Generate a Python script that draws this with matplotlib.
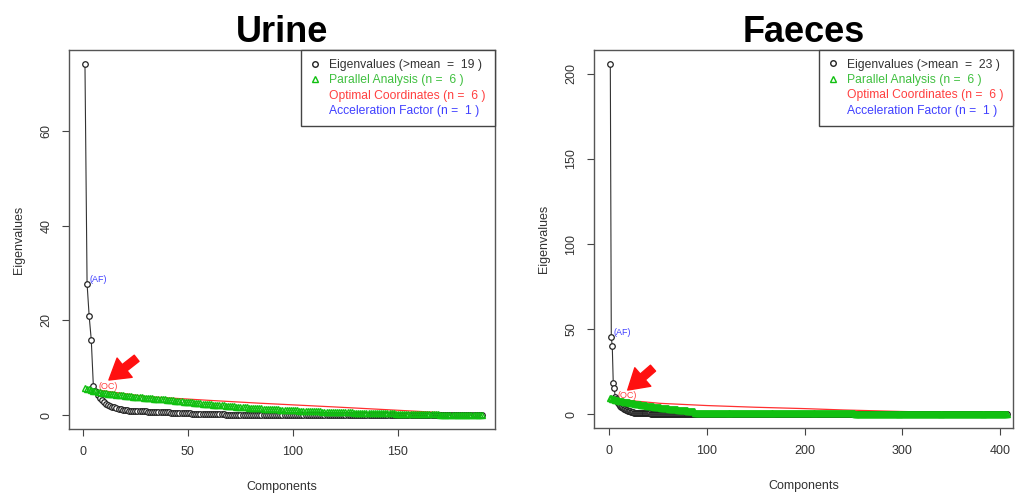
import matplotlib
matplotlib.use("Agg")
import matplotlib.pyplot as plt
from matplotlib.lines import Line2D

plt.rcParams['font.family'] = ['Liberation Sans', 'DejaVu Sans']

# --- Urine -------------------------------------------------------------
urine_eig = [
    74.2, 27.8, 20.9, 15.9, 6.1, 5.0, 4.2, 3.6, 3.1, 2.7,
    2.4, 2.15, 1.95, 1.78, 1.62, 1.48, 1.36, 1.25, 1.14, 1.0,
    0.97, 0.94, 0.91, 0.88, 0.85, 0.83, 0.81, 0.79, 0.77, 0.75,
    0.73, 0.71, 0.69, 0.67, 0.65, 0.63, 0.62, 0.6, 0.58, 0.56,
    0.54, 0.52, 0.5, 0.48, 0.45, 0.43, 0.41, 0.39, 0.37, 0.35,
    0.33, 0.31, 0.29, 0.28, 0.26, 0.25, 0.23, 0.22, 0.2, 0.18,
    0.17, 0.16, 0.15, 0.14, 0.13, 0.12, 0.11, 0.1, 0.1, 0.09,
    0.09, 0.08, 0.08, 0.07, 0.07, 0.07, 0.06, 0.06, 0.06, 0.05,
    0.05, 0.05, 0.04, 0.04, 0.04, 0.04, 0.03, 0.03, 0.03, 0.03,
    0.03, 0.02, 0.02, 0.02, 0.02, 0.02, 0.02, 0.02, 0.02, 0.01,
    0.01, 0.01, 0.01, 0.01, 0.01, 0.01, 0.01, 0.01, 0.01, 0.01,
    0.01, 0.01, 0.01, 0.01, 0.01, 0.01, 0.01, 0.01, 0.01, 0.01,
    0.01, 0.01, 0.01, 0.01, 0.01, 0.01, 0.01, 0.01, 0.01, 0.01,
    0.0, 0.0, 0.0, 0.0, 0.0, 0.0, 0.0, 0.0, 0.0, 0.0,
    0.0, 0.0, 0.0, 0.0, 0.0, 0.0, 0.0, 0.0, 0.0, 0.0,
    0.0, 0.0, 0.0, 0.0, 0.0, 0.0, 0.0, 0.0, 0.0, 0.0,
    0.0, 0.0, 0.0, 0.0, 0.0, 0.0, 0.0, 0.0, 0.0, 0.0,
    0.0, 0.0, 0.0, 0.0, 0.0, 0.0, 0.0, 0.0, 0.0, 0.0,
    0.0, 0.0, 0.0, 0.0, 0.0, 0.0, 0.0, 0.0, 0.0, 0.0,
]
urine_par = [
    5.8, 5.6, 5.4, 5.25, 5.1, 4.98, 4.88, 4.8, 4.72, 4.65,
    4.58, 4.52, 4.46, 4.4, 4.34, 4.28, 4.23, 4.18, 4.13, 4.08,
    4.03, 3.98, 3.93, 3.89, 3.85, 3.8, 3.76, 3.72, 3.68, 3.64,
    3.6, 3.56, 3.52, 3.48, 3.44, 3.4, 3.36, 3.32, 3.28, 3.24,
    3.2, 3.15, 3.1, 3.05, 3.0, 2.95, 2.9, 2.85, 2.8, 2.76,
    2.71, 2.66, 2.62, 2.57, 2.52, 2.48, 2.43, 2.39, 2.34, 2.3,
    2.26, 2.22, 2.18, 2.14, 2.1, 2.06, 2.02, 1.98, 1.94, 1.9,
    1.86, 1.82, 1.79, 1.75, 1.72, 1.68, 1.65, 1.61, 1.58, 1.55,
    1.52, 1.49, 1.46, 1.43, 1.4, 1.37, 1.34, 1.31, 1.28, 1.25,
    1.22, 1.2, 1.17, 1.15, 1.12, 1.1, 1.07, 1.05, 1.03, 1.0,
    0.98, 0.96, 0.94, 0.92, 0.9, 0.88, 0.86, 0.84, 0.82, 0.8,
    0.78, 0.76, 0.75, 0.73, 0.71, 0.7, 0.68, 0.67, 0.65, 0.64,
    0.62, 0.61, 0.6, 0.58, 0.57, 0.56, 0.54, 0.53, 0.52, 0.51,
    0.5, 0.48, 0.47, 0.46, 0.45, 0.44, 0.43, 0.42, 0.41, 0.4,
    0.39, 0.38, 0.37, 0.36, 0.35, 0.34, 0.33, 0.32, 0.31, 0.3,
    0.29, 0.28, 0.27, 0.26, 0.25, 0.24, 0.23, 0.22, 0.21, 0.2,
    0.19, 0.18, 0.17, 0.16, 0.15, 0.14, 0.13, 0.12, 0.11, 0.1,
    0.09, 0.09, 0.08, 0.08, 0.07, 0.07, 0.06, 0.06, 0.05, 0.05,
    0.04, 0.04, 0.03, 0.03, 0.02, 0.02, 0.01, 0.01, 0.0, 0.0,
]
urine_oc_x = [5, 30, 60, 84, 120, 150, 175, 190]
urine_oc_y = [5.4, 3.9, 3.1, 2.5, 1.7, 1.0, 0.4, 0.0]

# --- Faeces ------------------------------------------------------------
faeces_eig = [
    206.0, 45.1, 40.0, 18.4, 15.1, 10.2, 8.6, 7.4, 6.5, 5.8,
    5.0, 4.4, 3.9, 3.5, 3.1, 2.8, 2.5, 2.2, 1.95, 1.75,
    1.55, 1.35, 1.15, 0.98, 0.9, 0.83, 0.77, 0.72, 0.67, 0.62,
    0.58, 0.55, 0.52, 0.49, 0.46, 0.44, 0.42, 0.4, 0.38, 0.36,
    0.34, 0.33, 0.31, 0.3, 0.29, 0.28, 0.27, 0.26, 0.25, 0.24,
    0.23, 0.22, 0.21, 0.2, 0.19, 0.18, 0.17, 0.16, 0.15, 0.14,
    0.13, 0.13, 0.12, 0.12, 0.11, 0.11, 0.1, 0.1, 0.09, 0.09,
    0.08, 0.08, 0.08, 0.07, 0.07, 0.07, 0.06, 0.06, 0.06, 0.06,
    0.05, 0.05, 0.05, 0.05, 0.04, 0.04, 0.04, 0.04, 0.04, 0.03,
    0.03, 0.03, 0.03, 0.03, 0.03, 0.02, 0.02, 0.02, 0.02, 0.02,
    0.02, 0.02, 0.02, 0.02, 0.02, 0.01, 0.01, 0.01, 0.01, 0.01,
    0.01, 0.01, 0.01, 0.01, 0.01, 0.01, 0.01, 0.01, 0.01, 0.01,
    0.01, 0.01, 0.01, 0.01, 0.01, 0.01, 0.01, 0.01, 0.01, 0.01,
    0.01, 0.01, 0.01, 0.01, 0.01, 0.01, 0.01, 0.01, 0.01, 0.01,
    0.01, 0.01, 0.01, 0.01, 0.01,
    0.0, 0.0, 0.0, 0.0, 0.0, 0.0, 0.0, 0.0, 0.0, 0.0,
    0.0, 0.0, 0.0, 0.0, 0.0, 0.0, 0.0, 0.0, 0.0, 0.0,
    0.0, 0.0, 0.0, 0.0, 0.0, 0.0, 0.0, 0.0, 0.0, 0.0,
    0.0, 0.0, 0.0, 0.0, 0.0, 0.0, 0.0, 0.0, 0.0, 0.0,
    0.0, 0.0, 0.0, 0.0, 0.0, 0.0, 0.0, 0.0, 0.0, 0.0,
    0.0, 0.0, 0.0, 0.0, 0.0, 0.0, 0.0, 0.0, 0.0, 0.0,
    0.0, 0.0, 0.0, 0.0, 0.0, 0.0, 0.0, 0.0, 0.0, 0.0,
    0.0, 0.0, 0.0, 0.0, 0.0, 0.0, 0.0, 0.0, 0.0, 0.0,
    0.0, 0.0, 0.0, 0.0, 0.0, 0.0, 0.0, 0.0, 0.0, 0.0,
    0.0, 0.0, 0.0, 0.0, 0.0, 0.0, 0.0, 0.0, 0.0, 0.0,
    0.0, 0.0, 0.0, 0.0, 0.0, 0.0, 0.0, 0.0, 0.0, 0.0,
    0.0, 0.0, 0.0, 0.0, 0.0, 0.0, 0.0, 0.0, 0.0, 0.0,
    0.0, 0.0, 0.0, 0.0, 0.0, 0.0, 0.0, 0.0, 0.0, 0.0,
    0.0, 0.0, 0.0, 0.0, 0.0, 0.0, 0.0, 0.0, 0.0, 0.0,
    0.0, 0.0, 0.0, 0.0, 0.0, 0.0, 0.0, 0.0, 0.0, 0.0,
    0.0, 0.0, 0.0, 0.0, 0.0, 0.0, 0.0, 0.0, 0.0, 0.0,
    0.0, 0.0, 0.0, 0.0, 0.0, 0.0, 0.0, 0.0, 0.0, 0.0,
    0.0, 0.0, 0.0, 0.0, 0.0, 0.0, 0.0, 0.0, 0.0, 0.0,
    0.0, 0.0, 0.0, 0.0, 0.0, 0.0, 0.0, 0.0, 0.0, 0.0,
    0.0, 0.0, 0.0, 0.0, 0.0, 0.0, 0.0, 0.0, 0.0, 0.0,
    0.0, 0.0, 0.0, 0.0, 0.0, 0.0, 0.0, 0.0, 0.0, 0.0,
    0.0, 0.0, 0.0, 0.0, 0.0, 0.0, 0.0, 0.0, 0.0, 0.0,
    0.0, 0.0, 0.0, 0.0, 0.0, 0.0, 0.0, 0.0, 0.0, 0.0,
    0.0, 0.0, 0.0, 0.0, 0.0, 0.0, 0.0, 0.0, 0.0, 0.0,
    0.0, 0.0, 0.0, 0.0, 0.0, 0.0, 0.0, 0.0, 0.0, 0.0,
    0.0, 0.0, 0.0, 0.0, 0.0, 0.0, 0.0, 0.0, 0.0, 0.0,
    0.0, 0.0,
]
faeces_par = [
    9.4, 9.2, 9.0, 8.8, 8.6, 8.45, 8.3, 8.15, 8.0, 7.85,
    7.7, 7.6, 7.5, 7.4, 7.3, 7.2, 7.1, 7.0, 6.9, 6.8,
    6.7, 6.6, 6.5, 6.4, 6.3, 6.2, 6.1, 6.0, 5.9, 5.8,
    5.7, 5.6, 5.5, 5.4, 5.3, 5.2, 5.12, 5.04, 4.96, 4.88,
    4.8, 4.72, 4.64, 4.56, 4.48, 4.4, 4.32, 4.24, 4.16, 4.08,
    4.0, 3.92, 3.84, 3.76, 3.68, 3.6, 3.52, 3.45, 3.38, 3.31,
    3.24, 3.17, 3.1, 3.03, 2.96, 2.9, 2.84, 2.78, 2.72, 2.66,
    2.6, 2.54, 2.48, 2.42, 2.36, 2.3, 2.24, 2.18, 2.12, 2.06,
    2.0, 1.95, 1.9, 1.85, 1.8, 1.75, 1.7, 0.6, 0.6, 0.6,
    0.6, 0.6, 0.6, 0.6, 0.6, 0.6, 0.6, 0.6, 0.6, 0.6,
    0.6, 0.6, 0.6, 0.6, 0.6, 0.6, 0.6, 0.6, 0.6, 0.6,
    0.6, 0.6, 0.6, 0.6, 0.6, 0.6, 0.6, 0.6, 0.6, 0.6,
    0.58, 0.58, 0.58, 0.58, 0.58, 0.58, 0.58, 0.58, 0.58, 0.58,
    0.56, 0.56, 0.56, 0.56, 0.56, 0.56, 0.56, 0.56, 0.56, 0.56,
    0.54, 0.54, 0.54, 0.54, 0.54, 0.54, 0.54, 0.54, 0.54, 0.54,
    0.52, 0.52, 0.52, 0.52, 0.52, 0.52, 0.52, 0.52, 0.52, 0.52,
    0.5, 0.5, 0.5, 0.5, 0.5, 0.5, 0.5, 0.5, 0.5, 0.5,
    0.48, 0.48, 0.48, 0.48, 0.48, 0.48, 0.48, 0.48, 0.48, 0.48,
    0.46, 0.46, 0.46, 0.46, 0.46, 0.46, 0.46, 0.46, 0.46, 0.46,
    0.44, 0.44, 0.44, 0.44, 0.44, 0.44, 0.44, 0.44, 0.44, 0.44,
    0.42, 0.42, 0.42, 0.42, 0.42, 0.42, 0.42, 0.42, 0.42, 0.42,
    0.4, 0.4, 0.4, 0.4, 0.4, 0.4, 0.4, 0.4, 0.4, 0.4,
    0.38, 0.38, 0.38, 0.38, 0.38, 0.38, 0.38, 0.38, 0.38, 0.38,
    0.36, 0.36, 0.36, 0.36, 0.36, 0.36, 0.36, 0.36, 0.36, 0.36,
    0.34, 0.34, 0.34, 0.34, 0.34, 0.34, 0.34, 0.34, 0.34, 0.34,
    0.32, 0.32, 0.32, 0.32, 0.32, 0.32, 0.32, 0.32, 0.32, 0.32,
    0.3, 0.3, 0.3, 0.3, 0.3, 0.3, 0.3, 0.3, 0.3, 0.3,
    0.28, 0.28, 0.28, 0.28, 0.28, 0.28, 0.28, 0.28, 0.28, 0.28,
    0.26, 0.26, 0.26, 0.26, 0.26, 0.26, 0.26, 0.26, 0.26, 0.26,
    0.24, 0.24, 0.24, 0.24, 0.24, 0.24, 0.24, 0.24, 0.24, 0.24,
    0.22, 0.22, 0.22, 0.22, 0.22, 0.22, 0.22, 0.22, 0.22, 0.22,
    0.2, 0.2, 0.2, 0.2, 0.2, 0.2, 0.2, 0.2, 0.2, 0.2,
    0.18, 0.18, 0.18, 0.18, 0.18, 0.18, 0.18, 0.18, 0.18, 0.18,
    0.16, 0.16, 0.16, 0.16, 0.16, 0.16, 0.16, 0.16, 0.16, 0.16,
    0.14, 0.14, 0.14, 0.14, 0.14, 0.14, 0.14, 0.14, 0.14, 0.14,
    0.12, 0.12, 0.12, 0.12, 0.12, 0.12, 0.12, 0.12, 0.12, 0.12,
    0.1, 0.1, 0.1, 0.1, 0.1, 0.1, 0.1, 0.1, 0.1, 0.1,
    0.08, 0.08, 0.08, 0.08, 0.08, 0.08, 0.08, 0.08, 0.08, 0.08,
    0.06, 0.06, 0.06, 0.06, 0.06, 0.06, 0.06, 0.06, 0.06, 0.06,
    0.04, 0.04, 0.04, 0.04, 0.04, 0.04, 0.04, 0.04, 0.04, 0.04,
    0.02, 0.02, 0.02, 0.02, 0.02, 0.02, 0.02,
]
faeces_oc_x = [6, 20, 52, 100, 150, 200, 240, 300, 360, 407]
faeces_oc_y = [9.0, 8.0, 6.3, 5.0, 4.0, 3.2, 2.4, 1.5, 0.8, 0.2]

panels = [
    dict(title="Urine", eig=urine_eig, par=urine_par, oc_x=urine_oc_x, oc_y=urine_oc_y,
         n_mean=19, n_par=6, n_oc=6, n_af=1, oc_comp=6,
         pos=[69, 50, 495, 429], xlim=(-6.6, 196.2), ylim=(-2.96, 77.2),
         xticks=[0, 50, 100, 150], yticks=[0, 20, 40, 60],
         arrow=((25.6, 12.0), (12.4, 7.4))),
    dict(title="Faeces", eig=faeces_eig, par=faeces_par, oc_x=faeces_oc_x, oc_y=faeces_oc_y,
         n_mean=23, n_par=6, n_oc=6, n_af=1, oc_comp=6,
         pos=[594, 49.5, 1013, 428], xlim=(-15.7, 413.2), ylim=(-8.2, 214.4),
         xticks=[0, 100, 200, 300, 400], yticks=[0, 50, 100, 150, 200],
         arrow=((44.7, 27.0), (18.8, 14.1))),
]

W, H = 1015, 493
fig = plt.figure(figsize=(W / 100, H / 100), dpi=100)

GREEN = "#10c010"
TXT = "#333333"

for p in panels:
    l, t, r, b = p["pos"]
    ax = fig.add_axes([l / W, 1 - b / H, (r - l) / W, (b - t) / H])
    x_eig = list(range(1, len(p["eig"]) + 1))
    x_par = list(range(1, len(p["par"]) + 1))
    span = p["xlim"][1] - p["xlim"][0]

    ax.plot(p["oc_x"], p["oc_y"], color="#ff3030", lw=0.9, zorder=2)
    ax.plot(x_eig, p["eig"], color="#333333", lw=0.8, zorder=3)
    ax.plot(x_eig, p["eig"], ls="none", marker="o", ms=4, mfc="white", mec="#222222",
            mew=0.9, zorder=4)
    ax.plot(x_par, p["par"], ls="none", marker="^", ms=5, mfc="none", mec=GREEN,
            mew=1.0, zorder=5)

    # (AF) and (OC) labels
    ax.text(p["n_af"] + 1 + 0.006 * span, p["eig"][1], "(AF)",
            color="#4040ff", fontsize=6.5, ha="left", va="bottom")
    ax.text(p["oc_comp"] + 0.006 * span, p["par"][p["oc_comp"] - 1],
            "(OC)", color="#ff4040", fontsize=6.5, ha="left", va="bottom")

    # red arrow
    (tx, ty), (hx, hy) = p["arrow"]
    ax.annotate("", xy=(hx, hy), xytext=(tx, ty),
                arrowprops=dict(arrowstyle="simple,head_length=0.9,head_width=1.1,tail_width=0.35",
                                color="#ff1010", mutation_scale=16, shrinkA=0, shrinkB=0),
                zorder=6)

    ax.set_xlim(*p["xlim"])
    ax.set_ylim(*p["ylim"])
    ax.set_xticks(p["xticks"])
    ax.set_yticks(p["yticks"])
    ax.tick_params(direction="out", length=5, width=0.8, color="#444444",
                   labelsize=9, labelcolor=TXT, pad=7)
    for lab in ax.get_yticklabels():
        lab.set_rotation(90)
        lab.set_va("center")
    for s in ax.spines.values():
        s.set_color("#555555")
        s.set_linewidth(1.0)
    ax.set_xlabel("Components", fontsize=9, color=TXT, labelpad=17)
    ax.set_ylabel("Eigenvalues", fontsize=9, color=TXT, labelpad=11)

    handles = [
        Line2D([], [], ls="none", marker="o", ms=4, mfc="none", mec="#222222"),
        Line2D([], [], ls="none", marker="^", ms=5, mfc="none", mec=GREEN),
        Line2D([], [], ls="none"),
        Line2D([], [], ls="none"),
    ]
    labels = [
        f"Eigenvalues (>mean  =  {p['n_mean']} )",
        f"Parallel Analysis (n =  {p['n_par']} )",
        f"Optimal Coordinates (n =  {p['n_oc']} )",
        f"Acceleration Factor (n =  {p['n_af']} )",
    ]
    leg = ax.legend(handles, labels, loc="upper right", borderaxespad=0, fancybox=False,
                    edgecolor="#444444", framealpha=1, fontsize=8.7, handlelength=0.8,
                    handletextpad=0.8, borderpad=0.75, labelspacing=0.28,
                    labelcolor=["#333333", "#40c040", "#ff4040", "#4040ff"])
    leg.get_frame().set_linewidth(1.0)

    fig.text(((l + r) / 2) / W, 1 - 32 / H, p["title"], ha="center", va="center",
             fontsize=26, fontweight="bold", color="black")

fig.savefig("out.png", dpi=100)
